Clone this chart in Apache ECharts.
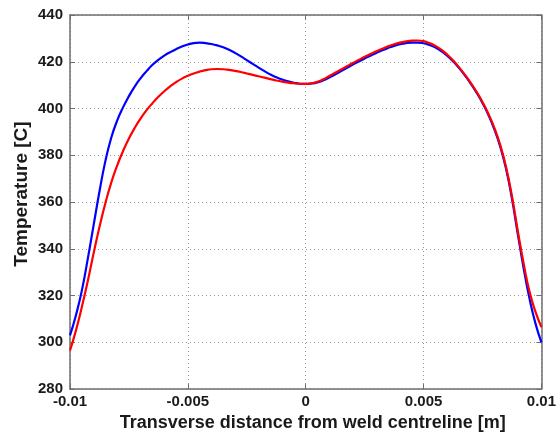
<!DOCTYPE html>
<html>
<head>
<meta charset="utf-8">
<script src="https://cdn.jsdelivr.net/npm/echarts@6/dist/echarts.min.js"></script>
<style>
html,body{margin:0;padding:0;background:#fff;}
#chart{width:559px;height:437px;}
</style>
</head>
<body>
<div id="chart"></div>
<script>
// Transverse distance [m]
var xs = [-0.01,-0.00975,-0.0095,-0.00925,-0.009,-0.00875,-0.0085,-0.00825,-0.008,-0.00775,
          -0.0075,-0.00725,-0.007,-0.00675,-0.0065,-0.00625,-0.006,-0.00575,-0.0055,-0.00525,
          -0.005,-0.00475,-0.0045,-0.00425,-0.004,-0.00375,-0.0035,-0.00325,-0.003,-0.00275,
          -0.0025,-0.00225,-0.002,-0.00175,-0.0015,-0.00125,-0.001,-0.00075,-0.0005,-0.00025,
          0,
          0.00025,0.0005,0.00075,0.001,0.00125,0.0015,0.00175,0.002,0.00225,0.0025,
          0.00275,0.003,0.00325,0.0035,0.00375,0.004,0.00425,0.0045,0.00475,0.005,
          0.00525,0.0055,0.00575,0.006,0.00625,0.0065,0.00675,0.007,0.00725,0.0075,
          0.00775,0.008,0.00825,0.0085,0.00875,0.009,0.00925,0.0095,0.00975,0.01];
// Blue series temperature [C]
var blueT = [303,311.5,322,335.5,350,364.5,377.5,387.5,394.8,400.5,
             405.3,409.5,413,416,418.7,420.8,422.6,424.1,425.4,426.5,
             427.4,428,428.2,428,427.6,427,426.2,425.1,423.8,422.3,
             420.7,419.1,417.5,416,414.6,413.4,412.4,411.6,411,410.6,
             410.5,
             410.7,411.2,412.1,413.3,414.6,416,417.4,418.8,420.1,421.4,
             422.6,423.8,424.9,425.9,426.8,427.5,428,428.2,428.2,427.9,
             427.2,426.1,424.6,422.6,420.2,417.4,414.2,410.7,406.8,402.4,
             397.3,391.2,383.8,374.2,361.5,346.2,331.5,318.5,308,300];
// Red series temperature [C]
var redT = [296.5,305,315,326,338,349.3,359.5,368.3,375.6,381.8,
            387.2,391.8,395.8,399.3,402.3,405,407.4,409.5,411.3,412.8,
            414,415,415.8,416.4,416.8,416.9,416.8,416.5,416.1,415.6,
            415,414.4,413.8,413.2,412.6,412,411.5,411.1,410.8,410.6,
            410.5,
            410.8,411.4,412.5,413.9,415.3,416.7,418.1,419.5,420.8,422.1,
            423.3,424.5,425.6,426.6,427.5,428.2,428.7,429.05,429.1,428.8,
            428,426.8,425.2,423.1,420.6,417.7,414.5,411,407.1,402.8,
            397.8,391.8,384.5,375,362.5,347.5,333.5,321.5,313,306.5];
var xTicks = [-0.01,-0.005,0,0.005,0.01];
var yTicks = [280,300,320,340,360,380,400,420,440];

function pairs(ys){ return xs.map(function(x,i){ return [x, ys[i]]; }); }

var chart = echarts.init(document.getElementById('chart'), null, {renderer:'canvas'});
var axisLine = {show:true, onZero:false, lineStyle:{color:'#6e6e6e', width:1.5}};
var tick = {show:true, inside:true, length:5, lineStyle:{color:'#6e6e6e'}};
var split = {show:true, lineStyle:{color:'#9a9a9a', type:[1,3], width:1}};
var FONT = 'Liberation Sans, Arial, sans-serif';
var lbl = {color:'#1a1a1a', fontFamily:FONT, fontWeight:'bold', fontSize:15};
chart.setOption({
  animation:false,
  backgroundColor:'#ffffff',
  grid:{left:70, top:15, width:477, height:376, containLabel:false},
  xAxis:[{
    type:'value', min:xTicks[0], max:xTicks[xTicks.length-1], interval:0.005,
    axisLine:axisLine, axisTick:tick, splitLine:split,
    axisLabel:Object.assign({margin:5, formatter:function(v){
      var i = xTicks.findIndex(function(t){return Math.abs(t-v)<1e-9;}); return i>=0 ? String(xTicks[i]) : '';
    }}, lbl),
    name:'Transverse distance from weld centreline [m]', nameLocation:'middle', nameGap:21,
    nameTextStyle:{color:'#1a1a1a', fontFamily:FONT, fontWeight:'bold', fontSize:18, padding:[0,0,0,14]}
  },{
    type:'value', position:'top', min:xTicks[0], max:xTicks[xTicks.length-1], interval:0.005,
    axisLine:axisLine, axisTick:tick, axisLabel:{show:false}, splitLine:{show:false}
  }],
  yAxis:[{
    type:'value', min:yTicks[0], max:yTicks[yTicks.length-1], interval:20,
    axisLine:axisLine, axisTick:tick, splitLine:split,
    axisLabel:Object.assign({margin:7}, lbl),
    name:'Temperature [C]', nameLocation:'middle', nameGap:39, nameMoveOverlap:false,
    nameTextStyle:{color:'#1a1a1a', fontFamily:FONT, fontWeight:'bold', fontSize:19, padding:[0,0,0,16]}
  },{
    type:'value', position:'right', min:yTicks[0], max:yTicks[yTicks.length-1], interval:20,
    axisLine:axisLine, axisTick:tick, axisLabel:{show:false}, splitLine:{show:false}
  }],
  series:[
    {type:'line', data:pairs(blueT), smooth:0.5, showSymbol:false, lineStyle:{color:'#0000ff', width:2.2}, z:2},
    {type:'line', data:pairs(redT), smooth:0.5, showSymbol:false, lineStyle:{color:'#ff0000', width:2.2}, z:3}
  ]
});
</script>
</body>
</html>
